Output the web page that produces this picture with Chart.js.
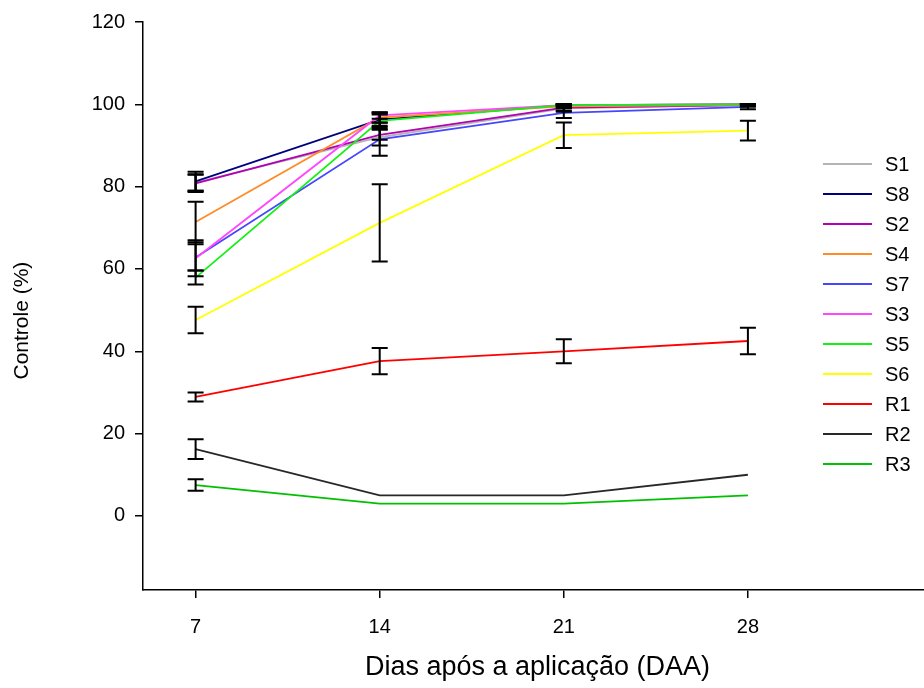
<!DOCTYPE html>
<html>
<head>
<meta charset="utf-8">
<script src="https://cdn.jsdelivr.net/npm/chart.js@4"></script>
<style>
  html, body { margin: 0; padding: 0; overflow: hidden; background: #fff; }
</style>
</head>
<body>
<canvas id="controleChart" width="932" height="688"></canvas>
<script>
// Dias após a aplicação
const days = [7, 14, 21, 28];
const yTickValues = [0, 20, 40, 60, 80, 100, 120];

const seriesNames = ['S1', 'S8', 'S2', 'S4', 'S7', 'S3', 'S5', 'S6', 'R1', 'R2', 'R3'];
const seriesColors = ['#b4b4b4', '#000080', '#b400b4', '#ff8c28', '#4646ff', '#ff46ff',
                      '#14f014', '#ffff00', '#ff0000', '#282828', '#00c000'];

// médias (%)
const s1 = [81.0, 92.0, 99.0, 99.8];
const s8 = [81.3, 96.3, 99.8, 100];
const s2 = [80.8, 92.6, 99.2, 99.8];
const s4 = [71.4, 96.8, 99.5, 99.9];
const s7 = [62.8, 91.5, 97.9, 99.4];
const s3 = [62.6, 97.3, 99.8, 100];
const s5 = [57.9, 96.0, 99.8, 100];
const s6 = [47.6, 71.2, 92.5, 93.6];
const r1 = [28.9, 37.6, 40.0, 42.5];
const r2 = [16.2, 5.0, 5.0, 10.0];
const r3 = [7.5, 3.0, 3.0, 5.0];

// desvios
const s1Err = [2.0, 2.0, 0.8, 0.3];
const s8Err = [2.3, 1.5, 0.3, 0];
const s2Err = [2.1, 1.2, 0.8, 0.3];
const s4Err = [4.9, 1.2, 0.5, 0.2];
const s7Err = [3.2, 4.0, 1.2, 0.6];
const s3Err = [4.4, 0.8, 0.2, 0];
const s5Err = [1.7, 1.5, 0.2, 0];
const s6Err = [3.2, 9.4, 3.1, 2.4];
const r1Err = [1.1, 3.2, 2.9, 3.2];
const r2Err = [2.4, 0, 0, 0];
const r3Err = [1.4, 0, 0, 0];

const seriesValues = [s1, s8, s2, s4, s7, s3, s5, s6, r1, r2, r3];
const seriesErrors = [s1Err, s8Err, s2Err, s4Err, s7Err, s3Err, s5Err, s6Err, r1Err, r2Err, r3Err];

const fontFamily = '"Liberation Sans", Arial, sans-serif';

const errorBars = {
    id: 'errorBars',
    afterDatasetsDraw(chart) {
        const ctx = chart.ctx;
        const xs = chart.scales.x, ys = chart.scales.y;
        ctx.save();
        ctx.strokeStyle = '#000';
        ctx.lineWidth = 2;
        chart.data.datasets.forEach(ds => {
            ds.data.forEach((p, i) => {
                const e = ds.errors[i];
                if (!e) return;
                const px = xs.getPixelForValue(p.x);
                const top = ys.getPixelForValue(p.y + e);
                const bot = ys.getPixelForValue(p.y - e);
                ctx.beginPath();
                ctx.moveTo(px, top); ctx.lineTo(px, bot);
                ctx.moveTo(px - 8, top); ctx.lineTo(px + 8, top);
                ctx.moveTo(px - 8, bot); ctx.lineTo(px + 8, bot);
                ctx.stroke();
            });
        });
        ctx.restore();
    }
};

const sideLegend = {
    id: 'sideLegend',
    afterDraw(chart) {
        const ctx = chart.ctx;
        ctx.save();
        ctx.font = '20px ' + fontFamily;
        ctx.textBaseline = 'middle';
        ctx.textAlign = 'left';
        chart.data.datasets.forEach((ds, i) => {
            const y = 164 + i * 30;
            ctx.strokeStyle = ds.borderColor;
            ctx.lineWidth = 2;
            ctx.beginPath();
            ctx.moveTo(823, y);
            ctx.lineTo(872, y);
            ctx.stroke();
            ctx.fillStyle = '#000';
            ctx.fillText(ds.label, 885, y + 1);
        });
        ctx.restore();
    }
};

const ctx = document.getElementById('controleChart').getContext('2d');
new Chart(ctx, {
    type: 'line',
    data: {
        datasets: seriesNames.map((name, k) => ({
            label: name,
            data: days.map((d, i) => ({ x: d, y: seriesValues[k][i] })),
            errors: seriesErrors[k],
            borderColor: seriesColors[k],
            backgroundColor: seriesColors[k],
            borderWidth: 1.8,
            pointRadius: 0,
            fill: false,
            tension: 0,
            order: seriesNames.length - k
        }))
    },
    options: {
        responsive: false,
        animation: false,
        layout: { padding: { top: 20, left: 0, right: 0, bottom: 0 } },
        plugins: { legend: { display: false }, tooltip: { enabled: false } },
        scales: {
            x: {
                type: 'linear',
                min: 5,
                max: 35,
                afterBuildTicks: s => { s.ticks = days.map(v => ({ value: v })); },
                afterFit: s => { s.height = 98; },
                border: { display: true, color: '#000', width: 1.5 },
                grid: { drawOnChartArea: false, drawTicks: true, tickLength: 8, color: '#000', lineWidth: 1.5 },
                ticks: { color: '#000', padding: 17, maxRotation: 0, font: { family: fontFamily, size: 20 } },
                title: {
                    display: true,
                    text: 'Dias após a aplicação (DAA)',
                    color: '#000',
                    font: { family: fontFamily, size: 27 },
                    padding: { top: 0, bottom: 4 }
                }
            },
            y: {
                min: -18,
                max: 120,
                afterBuildTicks: s => { s.ticks = yTickValues.map(v => ({ value: v })); },
                afterFit: s => { s.width = 143; },
                border: { display: true, color: '#000', width: 1.5 },
                grid: { drawOnChartArea: false, drawTicks: true, tickLength: 8, color: '#000', lineWidth: 1.5 },
                ticks: { color: '#000', padding: 10, font: { family: fontFamily, size: 20 } },
                title: {
                    display: true,
                    text: 'Controle (%)     ',
                    color: '#000',
                    font: { family: fontFamily, size: 21 },
                    padding: { top: 10, bottom: 0 }
                }
            }
        }
    },
    plugins: [errorBars, sideLegend]
});
</script>
</body>
</html>
